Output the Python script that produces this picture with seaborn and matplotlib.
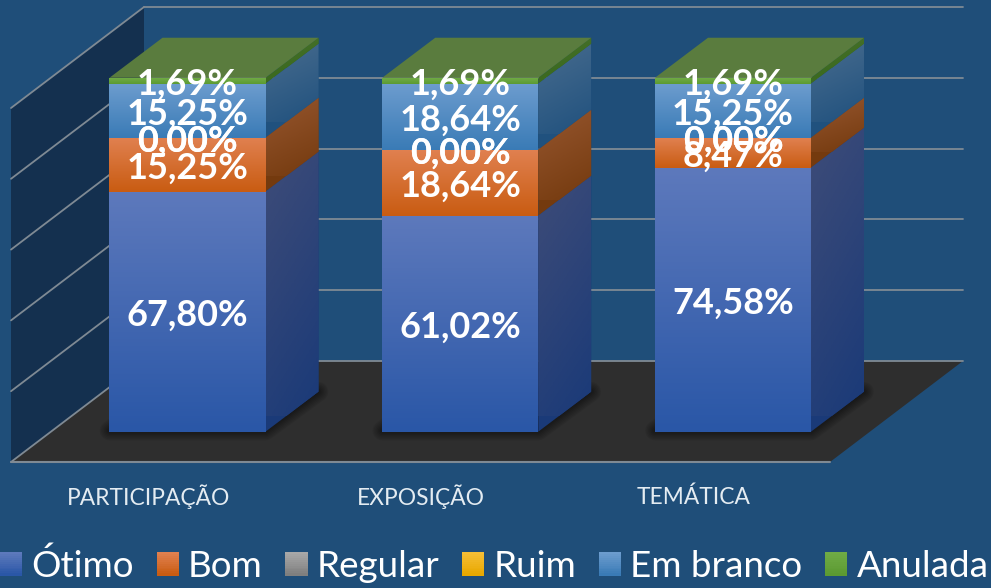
import numpy as np
import pandas as pd
import seaborn as sns
import matplotlib.pyplot as plt
from matplotlib.colors import LinearSegmentedColormap
from matplotlib.legend_handler import HandlerBase
from matplotlib.patches import Patch, Polygon, Rectangle

# Values
categories = ['PARTICIPAÇÃO', 'EXPOSIÇÃO', 'TEMÁTICA']
otimo = [67.80, 61.02, 74.58]
bom = [15.25, 18.64, 8.47]
regular = [0.00, 0.00, 0.00]
ruim = [0.00, 0.00, 0.00]
em_branco = [15.25, 18.64, 15.25]
anulada = [1.69, 1.69, 1.69]
series_names = ['Ótimo', 'Bom', 'Regular', 'Ruim', 'Em branco', 'Anulada']
y_ticks = [0, 20, 40, 60, 80, 100]

df = pd.DataFrame({'Ótimo': otimo, 'Bom': bom, 'Regular': regular, 'Ruim': ruim,
                   'Em branco': em_branco, 'Anulada': anulada}, index=categories)

BG = '#1F4E79'
GRID = '#7F8A94'
# front top, front bottom, side top, side bottom
colors = {
    'Ótimo': ('#5D79BC', '#2A57A7', '#3E4C78', '#1A3A78'),
    'Bom': ('#E0804F', '#C95C12', '#96562F', '#743A0E'),
    'Regular': ('#A8A8A8', '#7F7F7F', '#666666', '#4A4A4A'),
    'Ruim': ('#F5BE35', '#E8A800', '#94701A', '#7A5C00'),
    'Em branco': ('#6C9CCE', '#3A7BB6', '#486C8E', '#20517E'),
    'Anulada': ('#6FAB45', '#5C9A32', '#45702A', '#3C6A20'),
}
top_color = '#5A7C3E'

# scale of the chart in pixels
PX_X = 272.75
PX_Y = 3.54
BAR_W = 156 / PX_X
DX = 53 / PX_X
DY = 40 / PX_Y
FLOOR_DX = 133 / PX_X
FLOOR_DY = 101 / PX_Y
LEFT = (11 - 187.5) / PX_X
RIGHT = (830 - 187.5) / PX_X
FRONT = -30.3 / PX_Y
BACK = FRONT + FLOOR_DY

sns.set_style('white')
plt.rcParams['font.family'] = ['Lato', 'DejaVu Sans']

fig = plt.figure(figsize=(9.91, 5.88), dpi=100, facecolor=BG)
ax = fig.add_axes([0, 0, 1, 1])
ax.set_facecolor(BG)
xlim = (-187.5 / PX_X, (991 - 187.5) / PX_X)
ylim = ((431.7 - 588) / PX_Y, 431.7 / PX_Y)


def gradient(patch, top, bottom, extent, diag=False, z=3):
    cmap = LinearSegmentedColormap.from_list('g', [top, bottom])
    yy, xx = np.mgrid[0:1:64j, 0:1:64j]
    arr = yy * 0.75 + xx * 0.25 if diag else yy
    im = ax.imshow(arr, cmap=cmap, vmin=0, vmax=1, extent=extent, aspect='auto', zorder=z)
    im.set_clip_path(patch)


# walls and floor
ax.fill([LEFT, LEFT + FLOOR_DX, LEFT + FLOOR_DX, LEFT],
        [FRONT, BACK, BACK + 100, FRONT + 100], color='#14304F', lw=0, zorder=1)
floor = ax.fill([LEFT, RIGHT, RIGHT + FLOOR_DX, LEFT + FLOOR_DX],
                [FRONT, FRONT, BACK, BACK], color='#2E2E2E', lw=0, zorder=1)[0]
ax.plot([LEFT, RIGHT], [FRONT, FRONT], color=GRID, lw=1.5, zorder=1.5)
for t in y_ticks:
    ax.plot([LEFT + FLOOR_DX, RIGHT + FLOOR_DX], [BACK + t, BACK + t], color=GRID, lw=1.3, zorder=1.5)
    ax.plot([LEFT, LEFT + FLOOR_DX], [FRONT + t, BACK + t], color=GRID, lw=1.3, zorder=1.5)

# stacked bars
bottoms = np.zeros(len(categories))
for name in series_names:
    n_before = len(ax.patches)
    sns.barplot(x=categories, y=df[name].values, bottom=bottoms, width=BAR_W, color=colors[name][1],
                saturation=1, linewidth=0, ax=ax, zorder=3)
    for bar in ax.patches[n_before:]:
        x0, y0, w, h = bar.get_x(), bar.get_y(), bar.get_width(), bar.get_height()
        if h <= 0:
            continue
        gradient(bar, colors[name][0], colors[name][1], (x0, x0 + w, y0, y0 + h), z=3.2)
        side = Polygon([(x0 + w, y0), (x0 + w + DX, y0 + DY), (x0 + w + DX, y0 + h + DY), (x0 + w, y0 + h)],
                       facecolor=colors[name][3], lw=0, zorder=3)
        ax.add_patch(side)
        gradient(side, colors[name][2], colors[name][3], (x0 + w, x0 + w + DX, y0 + DY * 0.4, y0 + h + DY),
                 diag=True, z=3.1)
    bottoms = bottoms + df[name].values

# top faces, shadows and labels
for i, total in enumerate(bottoms):
    x0 = i - BAR_W / 2
    x1 = i + BAR_W / 2
    ax.fill([x0, x1, x1 + DX, x0 + DX], [total, total, total + DY, total + DY],
            color=top_color, lw=0, zorder=3.3)
    for lw in range(2, 16, 2):
        shadow = ax.fill([x0, x1, x1 + DX, x0 + DX], [0.3, 0.3, DY, DY],
                         color='black', alpha=0.07, lw=lw, zorder=2, joinstyle='round')[0]
        shadow.set_clip_path(floor)

    stacked = 0
    for name in series_names:
        v = df[name].values[i]
        ax.text(i, stacked + v / 2 - 1.1, f'{v:.2f}%'.replace('.', ','), color='white', fontsize=26,
                fontweight='bold', ha='center', va='center', zorder=5)
        stacked += v

    ax.text(i - 39 / PX_X, (431.7 - 497) / PX_Y, categories[i], color='#E4ECF2', fontsize=16.4,
            ha='center', va='center', zorder=5)


class GradientHandler(HandlerBase):
    def create_artists(self, legend, orig, xd, yd, width, height, fontsize, trans):
        top, bottom = orig.get_facecolor(), orig.get_edgecolor()
        out = []
        for k in range(12):
            f = k / 11
            c = tuple((1 - f) * a + f * b for a, b in zip(top, bottom))
            out.append(Rectangle((xd * -1, yd * -1 + height * (1 - (k + 1) / 12)), width, height / 12 + 0.3,
                                 facecolor=c, lw=0, transform=trans))
        return out


handles = [Patch(facecolor=colors[n][0], edgecolor=colors[n][1], label=n) for n in series_names]
leg = fig.legend(handles=handles, loc='lower left', bbox_to_anchor=(0, 5 / 588), ncol=6, frameon=False,
                 fontsize=26.5, labelcolor='white', handlelength=0.6, handleheight=0.6, handletextpad=0.25,
                 columnspacing=0.62, borderpad=0, borderaxespad=0,
                 handler_map={Patch: GradientHandler()})

ax.set_xlim(xlim)
ax.set_ylim(ylim)
ax.set_xticks([])
ax.set_yticks([])
ax.set_xlabel('')
ax.set_ylabel('')
sns.despine(ax=ax, left=True, bottom=True)
fig.savefig('out.png', dpi=100, facecolor=BG)
